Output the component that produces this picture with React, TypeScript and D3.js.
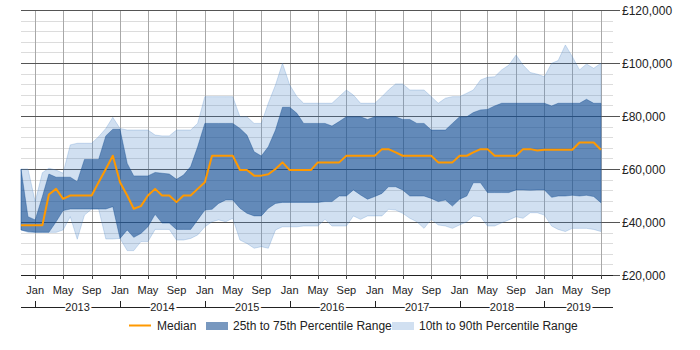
import * as d3 from "d3";

// Monthly salary percentiles, Nov 2012 .. Sep 2019
const startMonth = new Date(2012, 10, 1);
const endMonth = new Date(2019, 9, 1);
const months = d3.timeMonths(startMonth, endMonth);

const median = [
  38750, 38750,
  38750, 38750, 50400, 52500, 48750, 50000, 50000, 50000, 50000, 55000, 60000, 65000,
  55000, 50000, 45000, 46000, 50000, 52500, 50000, 50000, 47500, 50000, 50000, 52500,
  55000, 65000, 65000, 65000, 65000, 59600, 59600, 57500, 57500, 58000, 60000, 62500,
  59600, 59600, 59600, 59600, 62500, 62500, 62500, 62500, 65000, 65000, 65000, 65000,
  65000, 67500, 67500, 66250, 65000, 65000, 65000, 65000, 65000, 62500, 62500, 62500,
  65000, 65000, 66250, 67500, 67500, 65000, 65000, 65000, 65000, 67500, 67500, 67000,
  67250, 67250, 67250, 67250, 67250, 70000, 70000, 70000, 67250,
];

const p75 = [
  60000, 42000,
  40800, 49600, 58100, 56900, 56900, 56900, 55200, 63600, 63600, 63600, 72500, 75000,
  75000, 62100, 57400, 57400, 57400, 58700, 58400, 58100, 56100, 57700, 60900, 68400,
  77200, 77200, 77200, 77200, 77200, 75300, 72800, 66500, 64900, 68400, 74700, 83300,
  83300, 81000, 77200, 77200, 77200, 77200, 76200, 77900, 79700, 79700, 79700, 78700,
  79700, 79700, 79700, 79700, 78700, 78700, 77200, 77200, 74700, 74700, 74700, 77200,
  79700, 79700, 81300, 82300, 82500, 83800, 84800, 84800, 84800, 84800, 84800, 84800,
  84800, 83800, 84800, 84800, 84800, 84800, 86300, 84800, 84800,
];

const p25 = [
  37000, 36400,
  36100, 36100, 36100, 40100, 44300, 44900, 44900, 44900, 44900, 44900, 44900, 45800,
  33800, 37000, 34200, 35700, 38200, 42900, 39600, 39600, 37200, 37200, 37200, 40800,
  44500, 44800, 47000, 48300, 48300, 45200, 43300, 42300, 42300, 45200, 47000, 47400,
  47400, 47400, 47400, 47400, 47400, 47700, 47700, 49800, 49800, 52100, 50200, 48600,
  49600, 50800, 53300, 53300, 52100, 49800, 49800, 49800, 48900, 47700, 48300, 46000,
  48600, 49800, 54800, 54800, 51100, 51100, 51100, 51100, 52100, 52100, 52000, 52100,
  52100, 49300, 49800, 49800, 50100, 49800, 50100, 49600, 47300,
];

const p90 = [
  60000, 60000,
  47700, 58600, 60300, 59600, 58400, 69100, 69700, 69700, 69700, 72200, 75300, 79500,
  75300, 74700, 74700, 74700, 74700, 72800, 72500, 72500, 74700, 74700, 74700, 77200,
  87300, 87300, 87300, 87300, 87300, 79700, 79700, 77200, 77200, 84800, 91700, 99900,
  91700, 87300, 84800, 84800, 84800, 84800, 84800, 87300, 89800, 87900, 84800, 84800,
  84800, 87300, 89800, 92100, 92100, 89800, 89800, 89800, 87300, 84800, 86700, 87300,
  87300, 88600, 89800, 93600, 94600, 94800, 97400, 99200, 103000, 99200, 96400, 95800,
  94800, 99900, 100900, 106800, 102400, 97400, 99600, 98000, 99900,
];

const p10 = [
  37000, 36100,
  36100, 36100, 36100, 36100, 37000, 42000, 33500, 42600, 44900, 44900, 33600, 33600,
  33800, 29200, 29200, 32600, 32600, 37200, 37200, 37200, 33200, 33200, 33800, 35100,
  38200, 40100, 40800, 40100, 41400, 33200, 31900, 30100, 30700, 30100, 37000, 38200,
  38200, 38200, 38500, 38500, 38500, 41000, 38500, 38500, 38500, 42300, 41000, 42300,
  42300, 42300, 44800, 44500, 43300, 41400, 40100, 37600, 41000, 38900, 38500, 37600,
  38900, 40100, 42300, 42000, 38500, 38500, 39700, 40800, 42000, 41400, 43500, 43500,
  42600, 38500, 37200, 36400, 37600, 37600, 37600, 37200, 36400,
];

const legendLabels = ["Median", "25th to 75th Percentile Range", "10th to 90th Percentile Range"];

const W = 700;
const H = 350;
const left = 21;
const right = 613;
const top = 10;
const bottom = 275;
const font = "'Liberation Sans', Arial, sans-serif";
const textColor = "#222";

const darkFill = "rgba(10,68,139,0.55)";
const lightFill = "rgba(70,130,200,0.25)";
const orange = "#ff9900";

export default function App() {
  const x = d3.scaleTime()
    .domain([startMonth, new Date(2019, 9, 23)])
    .range([left, right]);
  const y = d3.scaleLinear().domain([20000, 120000]).range([bottom, top]);

  const rows = months.map((m, i) => ({
    d: m, med: median[i], lo: p25[i], hi: p75[i], lo10: p10[i], hi90: p90[i],
  }));

  const outer = d3.area<any>().x((r) => x(r.d)).y0((r) => y(r.lo10)).y1((r) => y(r.hi90));
  const inner = d3.area<any>().x((r) => x(r.d)).y0((r) => y(r.lo)).y1((r) => y(r.hi));
  const line = d3.line<any>().x((r) => x(r.d)).y((r) => y(r.med));

  const minorTicks = d3.range(20000, 120001, 4000);
  const majorTicks = y.ticks(5);
  const monthTicks = x.ticks(d3.timeMonth.every(4) as any);
  const yearTicks = d3.timeYear.range(new Date(2013, 0, 1), new Date(2020, 0, 1));
  const fmt = (v: number) => "£" + d3.format(",")(v);
  const monthFmt = d3.timeFormat("%b");

  const yearLineY = 307;

  return (
    <svg width={W} height={H} style={{ position: "absolute", left: 0, top: 0, background: "#fff" }} fontFamily={font}>
      {/* minor grid */}
      {minorTicks.map((t) => (
        <line key={"mn" + t} x1={left} x2={right} y1={Math.round(y(t)) + 0.5} y2={Math.round(y(t)) + 0.5} stroke="#dcdcdc" />
      ))}
      {/* vertical grid */}
      {monthTicks.map((t) => (
        <line key={"v" + +t} x1={Math.round(x(t)) + 0.5} x2={Math.round(x(t)) + 0.5} y1={top} y2={bottom} stroke="#a8a8a8" />
      ))}
      {/* major grid */}
      {majorTicks.map((t) => (
        <line key={"mj" + t} x1={left} x2={right + 7} y1={Math.round(y(t)) + 0.5} y2={Math.round(y(t)) + 0.5} stroke="#555" />
      ))}

      <path d={outer(rows) as string} fill={lightFill} stroke="rgba(70,130,200,0.25)" strokeWidth={1} />
      <path d={inner(rows) as string} fill={darkFill} stroke="rgba(10,68,139,0.35)" strokeWidth={1} />
      <path d={line(rows) as string} fill="none" stroke={orange} strokeWidth={2} strokeLinejoin="round" />

      {/* y labels */}
      {majorTicks.map((t) => (
        <text key={"yl" + t} x={right + 9} y={y(t) + 4.5} fontSize={12} fill={textColor}>{fmt(t)}</text>
      ))}

      {/* x axis */}
      <line x1={left} x2={right} y1={bottom + 0.5} y2={bottom + 0.5} stroke="#222" />
      {monthTicks.map((t) => (
        <g key={"mt" + +t}>
          <line x1={Math.round(x(t)) + 0.5} x2={Math.round(x(t)) + 0.5} y1={bottom} y2={bottom + 4} stroke="#444" />
          <text x={x(t)} y={293.5} fontSize={11} textAnchor="middle" fill={textColor}>{monthFmt(t)}</text>
        </g>
      ))}

      {/* year row */}
      <line x1={left} x2={right} y1={yearLineY + 0.5} y2={yearLineY + 0.5} stroke="#222" />
      {yearTicks.map((t, i) => {
        const next = i + 1 < yearTicks.length ? x(yearTicks[i + 1]) : right;
        const cx = (x(t) + Math.min(next, right)) / 2;
        return (
          <g key={"yr" + +t}>
            <line x1={Math.round(x(t)) + 0.5} x2={Math.round(x(t)) + 0.5} y1={yearLineY - 6} y2={yearLineY} stroke="#222" />
            <text x={cx} y={311} fontSize={11} textAnchor="middle" fill={textColor}
              stroke="#fff" strokeWidth={4} style={{ paintOrder: "stroke" }}>
              {d3.timeFormat("%Y")(t)}
            </text>
          </g>
        );
      })}

      {/* legend */}
      <g fontSize={12} fill={textColor}>
        <line x1={129} x2={151} y1={325.5} y2={325.5} stroke={orange} strokeWidth={2} />
        <text x={157} y={330}>{legendLabels[0]}</text>
        <rect x={206} y={322} width={22} height={8} fill={darkFill} />
        <text x={233} y={330}>{legendLabels[1]}</text>
        <rect x={392} y={322} width={22} height={8} fill={lightFill} />
        <text x={419} y={330}>{legendLabels[2]}</text>
      </g>
    </svg>
  );
}
